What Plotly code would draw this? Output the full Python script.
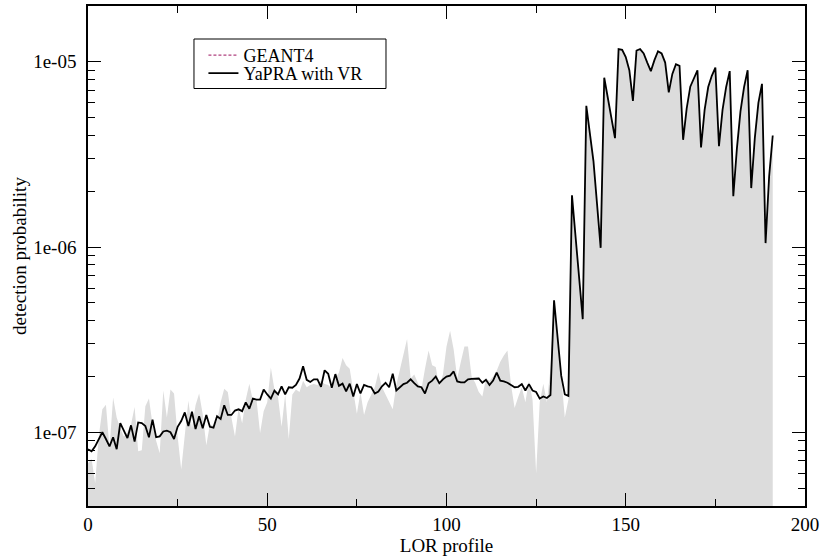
import plotly.graph_objects as go

# LOR index along the profile
lor = list(range(192))

# GEANT4 reference detection probability (shaded area)
geant4 = [
    0.68e-7, 0.72e-7, 0.53e-7, 0.95e-7, 1.33e-7, 1.41e-7, 0.82e-7, 1.54e-7, 1.20e-7, 1.05e-7,
    0.95e-7, 1.00e-7, 1.10e-7, 1.37e-7, 0.79e-7, 0.80e-7, 1.38e-7, 1.52e-7, 1.10e-7, 0.90e-7,
    0.77e-7, 1.68e-7, 1.20e-7, 1.70e-7, 1.62e-7, 0.95e-7, 0.63e-7, 1.00e-7, 1.48e-7, 1.05e-7,
    1.40e-7, 1.62e-7, 1.25e-7, 0.85e-7, 1.10e-7, 1.08e-7, 1.15e-7, 1.45e-7, 1.72e-7, 1.65e-7,
    1.20e-7, 0.95e-7, 1.35e-7, 1.12e-7, 1.50e-7, 1.83e-7, 1.48e-7, 1.50e-7, 0.99e-7, 1.30e-7,
    1.45e-7, 2.24e-7, 1.70e-7, 1.55e-7, 1.07e-7, 1.60e-7, 0.92e-7, 1.60e-7, 1.70e-7, 1.65e-7,
    1.90e-7, 1.75e-7, 1.80e-7, 1.82e-7, 1.80e-7, 1.90e-7, 1.82e-7, 1.80e-7, 1.72e-7, 1.95e-7,
    2.10e-7, 2.52e-7, 2.30e-7, 2.20e-7, 1.70e-7, 1.26e-7, 1.65e-7, 1.24e-7, 1.45e-7, 1.60e-7,
    1.75e-7, 2.11e-7, 1.75e-7, 1.60e-7, 1.45e-7, 1.33e-7, 1.80e-7, 2.20e-7, 2.60e-7, 3.19e-7,
    1.95e-7, 2.05e-7, 1.85e-7, 1.70e-7, 2.20e-7, 2.76e-7, 2.30e-7, 2.25e-7, 1.75e-7, 2.05e-7,
    2.90e-7, 3.53e-7, 2.80e-7, 1.95e-7, 2.40e-7, 2.90e-7, 2.90e-7, 2.00e-7, 1.85e-7, 1.65e-7,
    1.56e-7, 1.95e-7, 1.90e-7, 2.00e-7, 2.15e-7, 2.40e-7, 2.60e-7, 2.76e-7, 1.80e-7, 1.35e-7,
    1.55e-7, 1.75e-7, 1.45e-7, 1.90e-7, 1.50e-7, 0.60e-7, 1.45e-7, 1.83e-7, 1.45e-7, 2.20e-7,
    5.16e-7, 3.00e-7, 2.00e-7, 1.20e-7, 1.50e-7, 1.90e-6, 1.14e-6, 6.80e-7, 4.08e-7, 5.78e-6,
    4.20e-6, 2.90e-6, 1.70e-6, 9.90e-7, 8.20e-6, 6.30e-6, 4.90e-6, 3.87e-6, 1.17e-5, 1.16e-5,
    1.06e-5, 9.00e-6, 6.15e-6, 1.15e-5, 1.17e-5, 1.11e-5, 9.90e-6, 8.90e-6, 1.02e-5, 1.14e-5,
    1.11e-5, 9.90e-6, 6.84e-6, 8.60e-6, 9.70e-6, 9.50e-6, 3.79e-6, 5.60e-6, 7.34e-6, 8.20e-6,
    9.00e-6, 3.45e-6, 5.50e-6, 7.30e-6, 8.40e-6, 9.30e-6, 3.50e-6, 5.50e-6, 7.30e-6, 8.90e-6,
    1.88e-6, 3.40e-6, 5.40e-6, 7.30e-6, 9.00e-6, 2.08e-6, 3.87e-6, 6.00e-6, 7.60e-6, 1.05e-6,
    2.41e-6, 4.00e-6,
]

# YaPRA with variance reduction
yapra = [
    0.81e-7, 0.79e-7, 0.84e-7, 0.92e-7, 1.00e-7, 0.92e-7, 0.84e-7, 0.94e-7, 0.81e-7, 1.12e-7,
    1.02e-7, 0.93e-7, 1.09e-7, 0.89e-7, 1.13e-7, 1.12e-7, 1.08e-7, 0.94e-7, 1.17e-7, 0.94e-7,
    0.95e-7, 1.01e-7, 1.02e-7, 1.00e-7, 0.92e-7, 1.07e-7, 1.15e-7, 1.28e-7, 1.08e-7, 1.29e-7,
    1.04e-7, 1.22e-7, 1.05e-7, 1.24e-7, 1.07e-7, 1.06e-7, 1.22e-7, 1.18e-7, 1.40e-7, 1.24e-7,
    1.24e-7, 1.31e-7, 1.33e-7, 1.30e-7, 1.45e-7, 1.34e-7, 1.52e-7, 1.50e-7, 1.50e-7, 1.70e-7,
    1.60e-7, 1.52e-7, 1.68e-7, 1.60e-7, 1.77e-7, 1.60e-7, 1.75e-7, 1.74e-7, 1.80e-7, 1.95e-7,
    2.27e-7, 1.92e-7, 1.87e-7, 1.93e-7, 1.93e-7, 1.76e-7, 2.16e-7, 2.07e-7, 1.74e-7, 2.06e-7,
    1.78e-7, 1.83e-7, 1.66e-7, 1.83e-7, 1.56e-7, 1.82e-7, 1.62e-7, 1.80e-7, 1.77e-7, 1.75e-7,
    1.62e-7, 1.66e-7, 1.77e-7, 1.85e-7, 1.75e-7, 2.07e-7, 1.68e-7, 1.76e-7, 1.82e-7, 1.85e-7,
    1.93e-7, 1.84e-7, 1.77e-7, 1.75e-7, 1.62e-7, 1.84e-7, 1.90e-7, 2.00e-7, 1.84e-7, 1.93e-7,
    2.00e-7, 2.02e-7, 2.13e-7, 1.88e-7, 1.86e-7, 1.86e-7, 1.93e-7, 1.94e-7, 1.95e-7, 1.95e-7,
    1.85e-7, 1.92e-7, 1.80e-7, 1.90e-7, 2.10e-7, 1.90e-7, 1.88e-7, 1.85e-7, 1.80e-7, 1.75e-7,
    1.76e-7, 1.82e-7, 1.68e-7, 1.82e-7, 1.68e-7, 1.65e-7, 1.52e-7, 1.56e-7, 1.53e-7, 1.59e-7,
    5.16e-7, 3.13e-7, 2.02e-7, 1.60e-7, 1.57e-7, 1.90e-6, 1.14e-6, 6.80e-7, 4.08e-7, 5.78e-6,
    4.20e-6, 2.90e-6, 1.70e-6, 9.90e-7, 8.20e-6, 6.30e-6, 4.90e-6, 3.87e-6, 1.17e-5, 1.16e-5,
    1.06e-5, 9.00e-6, 6.15e-6, 1.15e-5, 1.17e-5, 1.11e-5, 9.90e-6, 8.90e-6, 1.02e-5, 1.14e-5,
    1.11e-5, 9.90e-6, 6.84e-6, 8.60e-6, 9.70e-6, 9.50e-6, 3.79e-6, 5.60e-6, 7.34e-6, 8.20e-6,
    9.00e-6, 3.45e-6, 5.50e-6, 7.30e-6, 8.40e-6, 9.30e-6, 3.50e-6, 5.50e-6, 7.30e-6, 8.90e-6,
    1.88e-6, 3.40e-6, 5.40e-6, 7.30e-6, 9.00e-6, 2.08e-6, 3.87e-6, 6.00e-6, 7.60e-6, 1.05e-6,
    2.41e-6, 4.00e-6,
]

y_tickvals = [1e-7, 1e-6, 1e-5]
y_ticktext = ["1e-07", "1e-06", "1e-05"]
x_tickvals = [0, 50, 100, 150, 200]

FONT = "Liberation Serif, Times New Roman, serif"
FS = 19
LEG_FS = 18

fig = go.Figure()

# shaded GEANT4 profile
fig.add_trace(go.Scatter(
    x=lor, y=geant4, mode="lines", fill="tozeroy",
    fillcolor="#dcdcdc", line=dict(width=0, color="#dcdcdc"),
    showlegend=False, hoverinfo="skip",
))
# legend entry for the GEANT4 curve
fig.add_trace(go.Scatter(
    x=[None], y=[None], mode="lines", name="GEANT4", legend="legend",
    line=dict(color="#b0407f", width=1.2, dash="3px,2px"),
))
fig.add_trace(go.Scatter(
    x=lor, y=yapra, mode="lines", name="YaPRA with VR", legend="legend2",
    line=dict(color="black", width=1.8),
))

axis_common = dict(
    showline=True, linecolor="black", linewidth=1.5, mirror="ticks",
    ticks="inside", tickcolor="black", tickwidth=1.2, showgrid=False,
    zeroline=False, tickfont=dict(family=FONT, size=FS, color="black"),
)

fig.update_xaxes(
    range=[0, 200], tickvals=x_tickvals, ticklen=13,
    minor=dict(ticks="inside", ticklen=7, dtick=25, tickcolor="black", tickwidth=1.2),
    title=dict(text="LOR profile", font=dict(family=FONT, size=FS, color="black"), standoff=0),
    ticklabelstandoff=0,
    **axis_common,
)
fig.update_yaxes(
    type="log", range=[-7.398, -4.699],
    tickvals=y_tickvals, ticktext=y_ticktext, ticklen=13,
    minor=dict(ticks="inside", ticklen=7, dtick="D1", tickcolor="black", tickwidth=1.2),
    title=dict(text="detection probability", font=dict(family=FONT, size=FS, color="black"), standoff=2),
    ticklabelstandoff=6,
    **axis_common,
)

legend_style = dict(
    xanchor="left", yanchor="top", bgcolor="rgba(0,0,0,0)", borderwidth=0,
    font=dict(family=FONT, size=LEG_FS, color="black"), itemwidth=30,
)

fig.update_layout(
    width=823, height=559,
    margin=dict(l=88, r=18, t=4, b=53),
    paper_bgcolor="white", plot_bgcolor="white",
    font=dict(family=FONT, size=FS, color="black"),
    legend=dict(x=0.161, y=0.938, **legend_style),
    legend2=dict(x=0.161, y=0.902, **legend_style),
    shapes=[dict(
        type="rect", xref="paper", yref="paper",
        x0=0.1478, x1=0.4156, y0=0.835, y1=0.934,
        line=dict(color="black", width=1), fillcolor="white", layer="above",
    )],
)

fig.write_html("out.html")
